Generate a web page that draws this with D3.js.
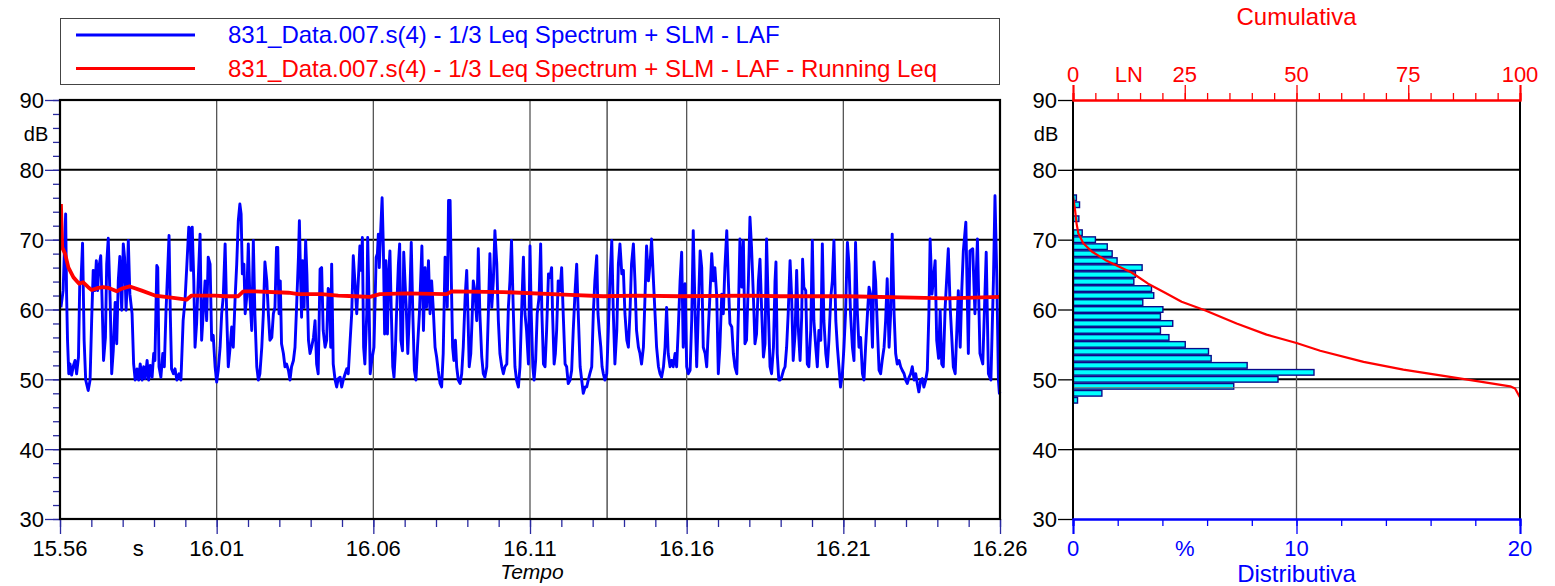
<!DOCTYPE html>
<html><head><meta charset="utf-8">
<script src="https://cdn.jsdelivr.net/npm/d3@7"></script>
<style>
body{margin:0;background:#fff}
text{font-family:"Liberation Sans",Arial,sans-serif}
</style>
</head><body>
<svg id="c" width="1555" height="586"></svg>
<script>
// ---------- DATA ----------
const legendLabels = ["831_Data.007.s(4) - 1/3 Leq Spectrum + SLM - LAF",
                      "831_Data.007.s(4) - 1/3 Leq Spectrum + SLM - LAF - Running Leq"];
const dbTicks = [30,40,50,60,70,80,90];
const timeLabelMinutes = [0,2.5,5,10,15,20,25,30];
const timeLabelTexts = ["15.56","s","16.01","16.06","16.11","16.16","16.21","16.26"];
const cumLabelValues = [0,12.5,25,50,75,100];
const cumLabelTexts = ["0","LN","25","50","75","100"];
const distLabelValues = [0,5,10,20];
const distLabelTexts = ["0","%","10","20"];
const cursorMinute = 17.46;
const cursorLevel = 48.8;

// LAF time history: [minutes from 15.56, dB]
const lafPoints = [[0.03,60.3],[0.10,62.7],[0.14,68.4],[0.18,73.7],[0.21,62.2],[0.24,55.6],[0.28,50.8],[0.32,52.2],[0.37,50.6],[0.43,52.0],[0.48,52.7],[0.53,50.8],[0.59,53.2],[0.63,63.7],[0.67,64.1],[0.72,69.5],[0.77,55.6],[0.82,49.9],[0.90,48.4],[0.96,49.9],[1.01,58.4],[1.06,65.6],[1.11,62.7],[1.16,67.0],[1.20,62.7],[1.24,66.0],[1.30,67.7],[1.34,61.8],[1.39,52.7],[1.45,56.0],[1.49,66.5],[1.54,70.2],[1.60,61.3],[1.65,50.8],[1.70,54.1],[1.76,61.0],[1.81,55.1],[1.86,64.1],[1.91,67.6],[1.97,59.9],[2.02,69.4],[2.06,67.5],[2.11,59.9],[2.15,64.6],[2.18,69.9],[2.23,62.2],[2.30,59.4],[2.35,52.2],[2.40,49.9],[2.46,51.5],[2.51,49.9],[2.56,52.2],[2.62,49.9],[2.67,51.8],[2.72,50.1],[2.78,52.7],[2.83,49.9],[2.88,52.0],[2.94,50.3],[2.99,53.7],[3.03,52.7],[3.09,66.3],[3.12,66.0],[3.16,51.8],[3.22,50.3],[3.28,53.7],[3.33,51.8],[3.38,59.4],[3.44,66.0],[3.48,70.6],[3.52,59.4],[3.56,51.5],[3.62,50.8],[3.67,51.5],[3.73,49.9],[3.80,50.8],[3.86,49.9],[3.93,58.4],[3.99,61.3],[4.05,66.5],[4.11,71.8],[4.15,71.5],[4.18,65.6],[4.22,71.8],[4.27,64.1],[4.31,54.6],[4.36,58.0],[4.41,64.1],[4.47,70.8],[4.52,55.6],[4.57,59.4],[4.63,64.1],[4.68,58.4],[4.73,67.5],[4.79,66.5],[4.84,55.6],[4.89,56.3],[4.95,51.8],[5.00,49.6],[5.05,51.3],[5.11,54.6],[5.16,59.4],[5.21,61.8],[5.27,69.4],[5.32,59.4],[5.37,51.8],[5.43,54.6],[5.48,57.5],[5.53,54.6],[5.59,61.8],[5.64,66.5],[5.69,72.7],[5.74,75.1],[5.78,73.7],[5.82,65.1],[5.87,66.5],[5.91,59.4],[5.96,61.8],[6.01,69.4],[6.06,61.8],[6.12,57.0],[6.17,69.9],[6.22,59.4],[6.28,51.8],[6.33,49.9],[6.38,50.8],[6.44,54.6],[6.49,59.4],[6.54,66.8],[6.60,64.1],[6.65,59.4],[6.70,55.6],[6.76,56.0],[6.81,59.4],[6.86,60.3],[6.91,68.9],[6.95,68.9],[6.99,59.4],[7.03,64.1],[7.07,55.1],[7.13,53.7],[7.18,51.8],[7.23,52.2],[7.29,51.3],[7.34,49.9],[7.39,51.8],[7.45,52.7],[7.50,54.6],[7.55,60.3],[7.61,67.5],[7.64,72.7],[7.68,64.1],[7.71,58.9],[7.74,67.0],[7.79,60.3],[7.84,69.9],[7.88,65.1],[7.93,55.6],[7.98,53.7],[8.03,54.6],[8.09,56.0],[8.14,58.4],[8.19,52.2],[8.24,50.8],[8.30,65.8],[8.35,66.0],[8.40,57.0],[8.46,54.6],[8.51,55.6],[8.56,63.0],[8.60,62.7],[8.64,54.6],[8.67,66.5],[8.72,52.2],[8.78,49.9],[8.83,48.9],[8.88,50.1],[8.94,50.3],[8.99,48.9],[9.04,49.9],[9.10,50.8],[9.15,51.5],[9.20,50.8],[9.26,55.6],[9.31,59.4],[9.36,67.7],[9.41,64.1],[9.47,59.4],[9.52,64.1],[9.57,69.1],[9.61,65.6],[9.65,70.3],[9.69,54.6],[9.73,52.2],[9.79,59.4],[9.82,70.3],[9.86,61.8],[9.90,50.8],
[9.95,52.7],[10.02,54.6],[10.09,67.5],[10.13,68.0],[10.16,70.8],[10.19,66.0],[10.23,70.8],[10.28,76.0],[10.32,68.9],[10.36,56.5],[10.40,67.0],[10.45,56.5],[10.49,65.1],[10.53,68.4],[10.57,60.3],[10.62,51.8],[10.66,50.3],[10.70,53.7],[10.74,59.4],[10.80,66.5],[10.84,69.4],[10.88,55.6],[10.93,54.1],[10.97,68.2],[11.01,64.1],[11.05,60.3],[11.10,53.7],[11.15,59.4],[11.21,69.6],[11.26,59.4],[11.31,51.3],[11.36,49.9],[11.41,54.6],[11.47,59.4],[11.51,64.1],[11.55,69.1],[11.60,57.0],[11.65,66.0],[11.70,60.3],[11.76,67.0],[11.81,59.4],[11.86,64.1],[11.91,60.3],[11.97,54.6],[12.02,53.2],[12.07,51.3],[12.13,49.4],[12.18,48.9],[12.23,53.7],[12.29,67.5],[12.33,66.5],[12.36,60.3],[12.40,75.6],[12.45,75.6],[12.49,64.1],[12.53,54.6],[12.57,52.7],[12.62,55.6],[12.66,51.8],[12.71,49.9],[12.77,49.4],[12.82,50.8],[12.87,54.6],[12.93,61.8],[12.98,65.6],[13.02,59.4],[13.06,51.8],[13.11,53.7],[13.15,58.4],[13.19,64.1],[13.24,62.7],[13.30,58.4],[13.35,68.7],[13.40,59.4],[13.46,53.2],[13.51,50.8],[13.56,50.3],[13.62,51.8],[13.67,59.4],[13.72,68.0],[13.78,60.3],[13.83,64.1],[13.88,71.3],[13.94,66.5],[13.99,58.4],[14.04,53.7],[14.10,51.8],[14.15,50.8],[14.20,51.8],[14.26,52.2],[14.31,60.3],[14.36,64.1],[14.41,69.9],[14.47,59.4],[14.52,51.8],[14.57,49.9],[14.63,48.9],[14.68,51.8],[14.73,59.4],[14.79,67.5],[14.84,59.4],[14.89,57.0],[14.95,52.2],[15.00,69.1],[15.04,59.4],[15.09,51.8],[15.13,49.9],[15.18,52.7],[15.23,59.4],[15.29,61.8],[15.34,69.4],[15.38,59.4],[15.43,52.2],[15.48,51.8],[15.53,57.0],[15.59,65.1],[15.64,64.6],[15.69,66.0],[15.72,59.4],[15.77,52.2],[15.81,53.7],[15.85,57.0],[15.90,64.1],[15.96,62.7],[16.01,66.0],[16.06,59.4],[16.12,52.2],[16.17,51.8],[16.22,49.4],[16.28,49.9],[16.33,51.3],[16.38,57.0],[16.44,62.7],[16.49,66.5],[16.54,59.4],[16.60,51.8],[16.65,49.9],[16.70,48.0],[16.76,48.9],[16.81,48.9],[16.86,49.9],[16.91,50.8],[16.97,51.8],[17.02,59.4],[17.07,64.1],[17.13,67.7],[17.17,59.4],[17.21,57.0],[17.26,54.6],[17.30,51.8],[17.34,50.8],[17.39,49.9],[17.45,50.8],[17.50,57.0],[17.55,64.1],[17.61,69.9],[17.66,59.4],[17.71,52.2],[17.77,57.0],[17.82,66.5],[17.87,69.4],[17.93,65.1],[17.98,65.6],[18.03,59.4],[18.09,55.6],[18.14,54.6],[18.19,59.4],[18.24,66.5],[18.30,69.4],[18.35,64.1],[18.40,57.0],[18.46,54.6],[18.51,53.7],[18.56,52.2],[18.62,54.6],[18.67,61.8],[18.72,69.1],[18.78,64.1],[18.83,66.5],[18.88,70.1],[18.94,64.1],[18.99,59.4],[19.04,54.6],[19.10,51.8],[19.15,50.8],[19.20,50.3],[19.26,51.8],[19.31,54.6],[19.36,60.3],[19.41,53.7],[19.47,51.8],[19.52,52.7],[19.57,51.8],[19.63,53.7],[19.68,51.8],[19.73,57.0],[19.79,64.1],[19.84,68.2],
[19.89,54.6],[19.95,63.7],[20.00,51.8],[20.05,50.8],[20.11,51.3],[20.16,58.4],[20.21,71.3],[20.27,59.4],[20.32,51.8],[20.37,59.4],[20.43,68.4],[20.48,66.0],[20.53,54.6],[20.59,53.7],[20.64,51.8],[20.69,57.0],[20.74,61.8],[20.80,68.0],[20.85,64.1],[20.90,66.0],[20.96,61.8],[21.01,50.8],[21.06,54.6],[21.12,62.2],[21.17,59.4],[21.22,66.0],[21.28,71.3],[21.33,64.1],[21.38,58.0],[21.44,57.5],[21.49,53.7],[21.54,51.8],[21.60,50.8],[21.65,59.4],[21.70,70.1],[21.76,63.2],[21.81,69.9],[21.86,55.1],[21.91,55.6],[21.97,64.1],[22.02,73.2],[22.07,68.9],[22.13,61.8],[22.18,55.1],[22.23,56.5],[22.29,64.1],[22.34,67.2],[22.39,60.3],[22.45,53.2],[22.50,55.1],[22.55,70.1],[22.61,59.4],[22.66,51.8],[22.71,50.8],[22.77,54.6],[22.82,64.1],[22.85,66.8],[22.89,53.7],[22.94,49.9],[22.98,49.9],[23.03,50.3],[23.09,51.3],[23.14,51.8],[23.19,54.6],[23.24,59.4],[23.30,67.0],[23.35,61.8],[23.40,52.7],[23.46,56.5],[23.51,65.6],[23.56,57.5],[23.62,52.7],[23.67,58.9],[23.70,67.2],[23.74,63.2],[23.80,62.7],[23.85,52.2],[23.90,51.8],[23.96,57.0],[24.01,69.9],[24.06,58.4],[24.12,54.6],[24.17,51.8],[24.22,57.0],[24.28,55.6],[24.33,69.4],[24.38,58.4],[24.44,53.7],[24.49,51.8],[24.54,55.6],[24.60,61.8],[24.65,64.1],[24.70,69.9],[24.76,58.4],[24.81,54.6],[24.86,51.8],[24.91,48.9],[24.97,50.8],[25.02,54.6],[25.07,59.4],[25.13,69.6],[25.18,66.5],[25.23,59.4],[25.29,54.6],[25.34,52.7],[25.39,69.6],[25.45,59.4],[25.50,54.6],[25.55,56.0],[25.61,50.8],[25.66,49.9],[25.71,54.6],[25.77,59.4],[25.82,63.2],[25.87,62.2],[25.93,54.6],[25.98,66.8],[26.03,64.1],[26.09,57.0],[26.14,51.3],[26.19,50.8],[26.24,52.7],[26.30,54.6],[26.35,58.4],[26.40,64.4],[26.46,54.6],[26.51,59.4],[26.56,70.8],[26.62,59.4],[26.67,53.7],[26.72,52.2],[26.78,52.7],[26.83,51.8],[26.88,51.3],[26.94,50.8],[26.99,49.9],[27.04,49.4],[27.10,50.3],[27.15,50.8],[27.20,51.8],[27.26,49.9],[27.31,50.8],[27.36,49.4],[27.41,48.2],[27.47,49.9],[27.52,50.1],[27.57,48.9],[27.63,49.9],[27.68,51.3],[27.73,59.4],[27.77,70.1],[27.83,62.2],[27.93,67.0],[27.98,55.6],[28.04,53.0],[28.09,59.9],[28.14,52.2],[28.19,51.8],[28.25,60.3],[28.35,68.7],[28.41,60.3],[28.51,51.8],[28.57,50.8],[28.67,62.7],[28.73,54.6],[28.78,62.7],[28.83,68.4],[28.91,72.5],[28.99,53.7],[29.04,68.4],[29.13,68.7],[29.20,59.4],[29.28,70.1],[29.36,53.7],[29.45,52.2],[29.56,68.2],[29.63,50.8],[29.71,49.9],[29.79,64.1],[29.84,76.3],[29.90,64.1],[29.95,49.9],[29.98,48.0],[30.00,48.2]];

// Running Leq: [minutes, dB]
const leqPoints = [[0.03,75.1],[0.07,68.9],[0.16,68.0],[0.27,66.0],[0.43,64.6],[0.61,63.7],[0.74,63.9],[0.90,63.2],[1.01,62.8],[1.22,63.1],[1.38,63.2],[1.54,63.1],[1.81,62.6],[1.97,63.0],[2.23,63.3],[2.61,62.7],[3.03,62.0],[3.56,61.7],[4.04,61.4],[4.20,62.0],[4.95,62.0],[5.27,61.9],[5.69,61.9],[5.85,62.6],[6.22,62.6],[7.29,62.4],[7.61,62.2],[8.35,62.2],[8.88,62.0],[9.41,61.9],[9.89,61.8],[10.21,62.2],[11.06,62.3],[12.34,62.2],[12.50,62.6],[14.15,62.5],[16.28,62.1],[17.34,61.9],[18.40,62.0],[19.79,61.9],[21.91,62.0],[22.98,61.9],[25.11,61.9],[27.23,61.7],[28.30,61.6],[30.00,61.8]];

// Distribution (1 dB classes, centre level) and percent of time
const histLevel   = [76,75,74,73,72,71,70,69,68,67,66,65,64,63,62,61,60,59,58,57,56,55,54,53,52,51,50,49,48,47];
const histPercent = [0.13,0.27,0,0.24,0,0.39,0.98,1.51,1.73,1.95,3.07,2.77,2.70,3.49,3.59,3.10,4.00,3.89,4.44,3.89,4.27,5.00,6.04,6.16,7.77,10.76,9.15,7.17,1.27,0.18];

// Cumulative curve: level (dB) vs percent exceeded
const cumLevel   = [76.2,74.3,72.3,70.9,69.5,68.3,67.1,66.2,65.3,63.7,62.4,61.1,59.9,58.0,56.4,55.2,54.1,52.5,51.4,50.5,49.6,49.0,48.7,47.4];
const cumPercent = [0,0.45,0.8,1.2,2.3,4.2,7.2,10.1,13.1,16.8,20.6,24.3,29.5,36.6,43.3,50.0,55.3,65.0,73.9,82.9,91.8,97.8,98.9,100];

// ---------- CHART ----------
const svg = d3.select("#c");
const L = {x0:60, x1:1000, y0:100, y1:519};
const R = {x0:1073, x1:1520, y0:100, y1:519};
const navy = "#2a2aa0";

const x = d3.scaleLinear().domain([0,30]).range([L.x0,L.x1]);
const y = d3.scaleLinear().domain([30,90]).range([L.y1,L.y0]);
const yR = d3.scaleLinear().domain([30,90]).range([R.y1,R.y0]);
const xCum = d3.scaleLinear().domain([0,100]).range([R.x0,R.x1]);
const xDist = d3.scaleLinear().domain([0,20]).range([R.x0,R.x1]);

// Legend
const lg = svg.append("g");
lg.append("rect").attr("x",60.5).attr("y",18.5).attr("width",939).attr("height",66)
  .attr("fill","#fff").attr("stroke","#444").attr("stroke-width",1);
const legendColors = ["#0000ff","#ff0000"];
legendLabels.forEach((t,i)=>{
  const yy = i===0 ? 35 : 68.5;
  lg.append("line").attr("x1",76).attr("x2",195).attr("y1",yy).attr("y2",yy)
    .attr("stroke",legendColors[i]).attr("stroke-width",3);
  lg.append("text").attr("x",228).attr("y",yy+8.3).attr("font-size",24)
    .attr("fill",legendColors[i]).text(t);
});

// ---- Left panel gridlines
const gL = svg.append("g");
gL.selectAll("line.hg").data(dbTicks.filter(d=>d>30&&d<90)).join("line")
  .attr("x1",L.x0).attr("x2",L.x1).attr("y1",d=>y(d)).attr("y2",d=>y(d))
  .attr("stroke","#000").attr("stroke-width",2);
gL.selectAll("line.vg").data([5,10,15,20,25]).join("line")
  .attr("x1",d=>x(d)).attr("x2",d=>x(d)).attr("y1",L.y0).attr("y2",L.y1)
  .attr("stroke","#555").attr("stroke-width",1.3);
gL.append("line").attr("x1",x(cursorMinute)).attr("x2",x(cursorMinute)).attr("y1",L.y0).attr("y2",L.y1)
  .attr("stroke","#000").attr("stroke-width",1);

// axes left panel
const axY = svg.append("g").attr("transform",`translate(${L.x0},0)`)
  .call(d3.axisLeft(y).tickValues(d3.range(30,91,2)).tickSize(7).tickFormat(""));
const axYM = svg.append("g").attr("transform",`translate(${L.x0},0)`)
  .call(d3.axisLeft(y).tickValues(dbTicks).tickSize(15).tickPadding(1).tickFormat(d3.format("d")));
const axX = svg.append("g").attr("transform",`translate(0,${L.y1})`)
  .call(d3.axisBottom(x).tickValues(d3.range(0,31,1)).tickSize(8).tickFormat(""));
const axXM = svg.append("g").attr("transform",`translate(0,${L.y1})`)
  .call(d3.axisBottom(x).tickValues([0,5,10,15,20,25,30]).tickSize(15).tickFormat(""));
[axY,axYM,axX,axXM].forEach(a=>{
  a.select(".domain").remove();
  a.selectAll(".tick line").attr("stroke",navy).attr("stroke-width",1.3);
  a.selectAll("text").attr("font-size",22).attr("fill","#000").attr("font-family","Liberation Sans, Arial, sans-serif");
});
axYM.selectAll("text").attr("x",-16).attr("dy","0.36em");

svg.append("g").selectAll("text").data(timeLabelMinutes).join("text")
  .attr("x",d=>x(d)).attr("y",556).attr("text-anchor","middle").attr("font-size",22)
  .text((d,i)=>timeLabelTexts[i]);
svg.append("text").attr("x",(L.x0+L.x1)/2+2).attr("y",579).attr("text-anchor","middle")
  .attr("font-size",21).attr("font-style","italic").text("Tempo");
svg.append("text").attr("x",36).attr("y",141).attr("text-anchor","middle").attr("font-size",20).text("dB");

// data lines
const line = d3.line().x(d=>x(d[0])).y(d=>y(d[1]));
svg.append("path").datum(lafPoints).attr("d",line).attr("fill","none")
  .attr("stroke","#0000ff").attr("stroke-width",2.9).attr("stroke-linejoin","round");
svg.append("path").datum(leqPoints).attr("d",line).attr("fill","none")
  .attr("stroke","#ff0000").attr("stroke-width",3.8).attr("stroke-linejoin","round");

// left frame
svg.append("rect").attr("x",L.x0).attr("y",L.y0).attr("width",L.x1-L.x0).attr("height",L.y1-L.y0)
  .attr("fill","none").attr("stroke","#000").attr("stroke-width",2.2);

// ---- Right panel
const gR = svg.append("g");
gR.selectAll("line.hg").data(dbTicks.filter(d=>d>30&&d<90)).join("line")
  .attr("x1",R.x0).attr("x2",R.x1).attr("y1",d=>yR(d)).attr("y2",d=>yR(d))
  .attr("stroke","#000").attr("stroke-width",2);
gR.append("line").attr("x1",xCum(50)).attr("x2",xCum(50)).attr("y1",R.y0).attr("y2",R.y1)
  .attr("stroke","#555").attr("stroke-width",1.3);

// histogram bars
const bins = histLevel.map((l,i)=>({l, p:histPercent[i]})).filter(d=>d.p>0);
gR.selectAll("rect.bar").data(bins).join("rect")
  .attr("x",R.x0+0.5)
  .attr("y",d=>yR(d.l+0.5)+0.7)
  .attr("width",d=>xDist(d.p)-R.x0)
  .attr("height",d=>yR(d.l-0.5)-yR(d.l+0.5)-1.4)
  .attr("fill","#00ffff").attr("stroke","#0a0a8a").attr("stroke-width",1.4);

gR.append("line").attr("x1",R.x0).attr("x2",R.x1).attr("y1",yR(cursorLevel)).attr("y2",yR(cursorLevel))
  .attr("stroke","#777").attr("stroke-width",1);

// cumulative curve
const cumLine = d3.line().x(d=>xCum(d[1])).y(d=>yR(d[0]));
gR.append("path").datum(cumLevel.map((l,i)=>[l,cumPercent[i]])).attr("d",cumLine)
  .attr("fill","none").attr("stroke","#ff0000").attr("stroke-width",2.2).attr("stroke-linejoin","round");

// right frame
gR.append("line").attr("x1",R.x0).attr("x2",R.x0).attr("y1",R.y0).attr("y2",R.y1).attr("stroke","#000").attr("stroke-width",2);
gR.append("line").attr("x1",R.x1).attr("x2",R.x1).attr("y1",R.y0).attr("y2",R.y1).attr("stroke","#000").attr("stroke-width",2);

// right y axis
const axYR = svg.append("g").attr("transform",`translate(${R.x0},0)`)
  .call(d3.axisLeft(yR).tickValues(dbTicks).tickSize(15).tickPadding(1).tickFormat(d3.format("d")));
axYR.select(".domain").remove();
axYR.selectAll(".tick line").attr("stroke","#000").attr("stroke-width",1.3);
axYR.selectAll("text").attr("font-size",22).attr("fill","#000").attr("x",-16).attr("dy","0.36em")
  .attr("font-family","Liberation Sans, Arial, sans-serif");
svg.append("text").attr("x",1046).attr("y",141).attr("text-anchor","middle").attr("font-size",20).text("dB");

// top cumulative axis (red)
const axT = svg.append("g").attr("transform",`translate(0,${R.y0})`)
  .call(d3.axisTop(xCum).tickValues(d3.range(0,101,5)).tickSize(7).tickFormat(""));
const axTM = svg.append("g").attr("transform",`translate(0,${R.y0})`)
  .call(d3.axisTop(xCum).tickValues([0,25,50,75,100]).tickSize(15).tickFormat(""));
[axT,axTM].forEach(a=>{
  a.select(".domain").attr("stroke","#ff0000").attr("stroke-width",2);
  a.selectAll(".tick line").attr("stroke","#ff0000").attr("stroke-width",1.3);
});
svg.append("g").selectAll("text").data(cumLabelValues).join("text")
  .attr("x",d=>xCum(d)).attr("y",82).attr("text-anchor","middle").attr("font-size",22)
  .attr("fill","#ff0000").text((d,i)=>cumLabelTexts[i]);
svg.append("text").attr("x",xCum(50)).attr("y",25).attr("text-anchor","middle")
  .attr("font-size",24).attr("fill","#ff0000").text("Cumulativa");

// bottom distributive axis (blue)
const axB = svg.append("g").attr("transform",`translate(0,${R.y1})`)
  .call(d3.axisBottom(xDist).tickValues(d3.range(0,21,2)).tickSize(7).tickFormat(""));
const axBM = svg.append("g").attr("transform",`translate(0,${R.y1})`)
  .call(d3.axisBottom(xDist).tickValues([0,10,20]).tickSize(15).tickFormat(""));
[axB,axBM].forEach(a=>{
  a.select(".domain").attr("stroke","#0000ff").attr("stroke-width",2);
  a.selectAll(".tick line").attr("stroke","#0000ff").attr("stroke-width",1.3);
});
svg.append("g").selectAll("text").data(distLabelValues).join("text")
  .attr("x",d=>xDist(d)).attr("y",556).attr("text-anchor","middle").attr("font-size",22)
  .attr("fill","#0000ff").text((d,i)=>distLabelTexts[i]);
svg.append("text").attr("x",xDist(10)).attr("y",582).attr("text-anchor","middle")
  .attr("font-size",24).attr("fill","#0000ff").text("Distributiva");
</script>
</body></html>
